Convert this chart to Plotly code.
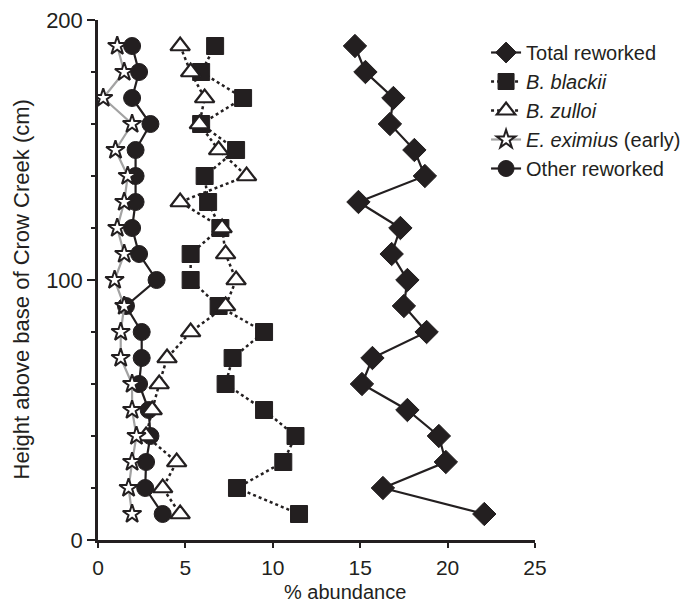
import plotly.graph_objects as go

height = [190, 180, 170, 160, 150, 140, 130, 120, 110, 100, 90, 80, 70, 60, 50, 40, 30, 20, 10]
total_reworked = [14.7, 15.3, 16.9, 16.7, 18.1, 18.7, 14.9, 17.3, 16.8, 17.7, 17.5, 18.8, 15.7, 15.1, 17.7, 19.5, 19.9, 16.3, 22.1]
b_blackii = [6.7, 5.9, 8.3, 5.9, 7.9, 6.1, 6.3, 7.0, 5.3, 5.3, 6.9, 9.5, 7.7, 7.3, 9.5, 11.3, 10.6, 7.95, 11.5]
b_zulloi = [4.7, 5.3, 6.1, 5.8, 6.9, 8.5, 4.7, 7.1, 7.3, 7.9, 7.3, 5.3, 3.95, 3.5, 3.1, 2.75, 4.5, 3.7, 4.7]
e_eximius = [1.1, 1.5, 0.3, 1.95, 1.0, 1.7, 1.5, 1.1, 1.5, 0.95, 1.5, 1.3, 1.3, 1.95, 1.95, 2.2, 1.95, 1.75, 1.95]
other_reworked = [1.95, 2.35, 1.95, 3.0, 2.15, 2.15, 2.15, 1.95, 2.35, 3.35, 1.6, 2.5, 2.5, 2.35, 2.9, 3.0, 2.75, 2.7, 3.7]

x_ticks = [0, 5, 10, 15, 20, 25]
y_ticks = [0, 100, 200]
x_title = "% abundance"
y_title = "Height above base of Crow Creek (cm)"

INK = "#231f20"
FONT = "Liberation Sans, Arial, Helvetica, sans-serif"

fig = go.Figure()

fig.add_trace(go.Scatter(
    x=other_reworked, y=height, name="Other reworked", mode="lines+markers",
    line=dict(color=INK, width=2.2),
    marker=dict(symbol="circle", size=17, color=INK, line=dict(color=INK, width=1)),
    legendrank=5,
))
fig.add_trace(go.Scatter(
    x=total_reworked, y=height, name="Total reworked", mode="lines+markers",
    line=dict(color=INK, width=2.2),
    marker=dict(symbol="diamond", size=18, color=INK, line=dict(color=INK, width=1)),
    legendrank=1,
))
fig.add_trace(go.Scatter(
    x=b_blackii, y=height, name="<i>B. blackii</i>", mode="lines+markers",
    line=dict(color=INK, width=2.5, dash="dot"),
    marker=dict(symbol="square", size=17, color=INK, line=dict(color=INK, width=1)),
    legendrank=2,
))
fig.add_trace(go.Scatter(
    x=b_zulloi, y=height, name="<i>B. zulloi</i>", mode="lines+markers",
    line=dict(color=INK, width=2.5, dash="dot"),
    marker=dict(symbol="triangle-up", size=17, color="white", line=dict(color=INK, width=2.2)),
    legendrank=3,
))
fig.add_trace(go.Scatter(
    x=e_eximius, y=height, name="<i>E. eximius</i> (early)", mode="lines+markers",
    line=dict(color="#a3a3a3", width=2.2),
    marker=dict(symbol="star", size=14, color="white", line=dict(color=INK, width=2)),
    legendrank=4,
))

# page body has an 8px margin, so the figure is 8px smaller and margins compensate
fig.update_layout(
    width=689, height=597,
    margin=dict(l=89.5, r=162, t=12, b=64.7, autoexpand=False),
    paper_bgcolor="white", plot_bgcolor="white",
    font=dict(family=FONT, color=INK, size=22),
    legend=dict(
        x=0.888, y=0.975, xanchor="left", yanchor="top",
        font=dict(size=20, family=FONT, color=INK),
        tracegroupgap=0, itemsizing="trace",
        bgcolor="rgba(0,0,0,0)",
    ),
    showlegend=True,
    annotations=[
        dict(text=x_title, xref="paper", yref="paper", x=0.566, y=-0.0994,
             xanchor="center", yanchor="middle", showarrow=False,
             font=dict(size=20, family=FONT, color=INK)),
        dict(text=y_title, xref="paper", yref="paper", x=-0.175, y=0.481,
             xanchor="center", yanchor="middle", showarrow=False, textangle=-90,
             font=dict(size=22, family=FONT, color=INK)),
    ],
)
fig.update_xaxes(
    range=[0, 25], tickmode="array", tickvals=x_ticks,
    ticks="outside", ticklen=5, tickwidth=2, tickcolor=INK,
    ticklabelstandoff=2, ticklabeloverflow="allow",
    showline=True, linewidth=2.5, linecolor=INK,
    showgrid=False, zeroline=False, automargin=False,
    tickfont=dict(size=21, family=FONT, color=INK),
)
fig.update_yaxes(
    range=[0, 200], tickmode="array", tickvals=y_ticks,
    ticks="outside", ticklen=8, tickwidth=2, tickcolor=INK,
    ticklabeloverflow="allow",
    minor=dict(dtick=20, tick0=0, ticks="outside", ticklen=4, tickwidth=2, tickcolor=INK, showgrid=False),
    showline=True, linewidth=2.5, linecolor=INK,
    showgrid=False, zeroline=False, automargin=False,
    tickfont=dict(size=22, family=FONT, color=INK),
)

fig.write_html("out.html")
